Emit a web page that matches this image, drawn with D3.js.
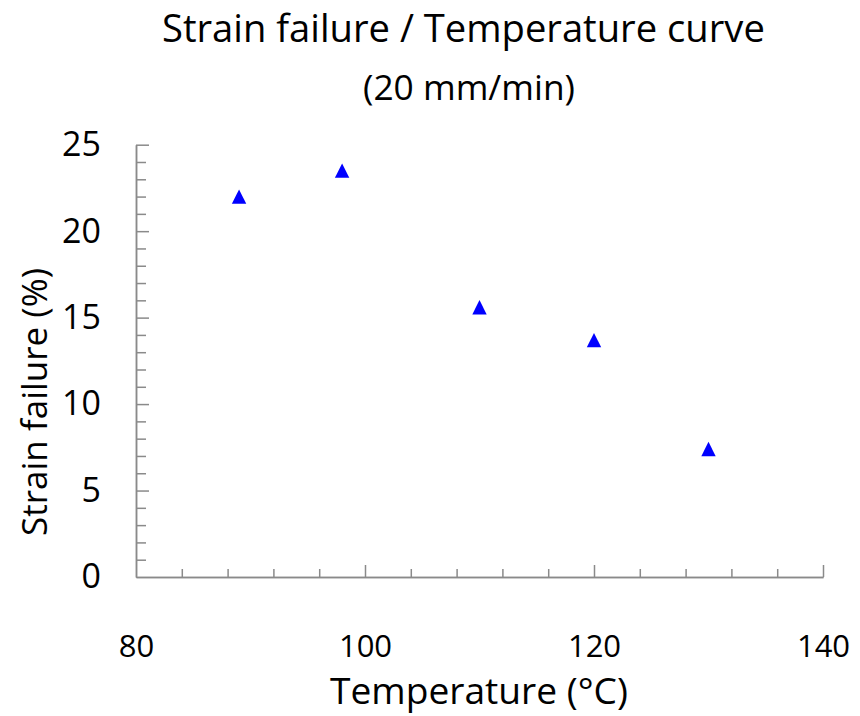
<!DOCTYPE html>
<html>
<head>
<meta charset="utf-8">
<script src="https://cdn.jsdelivr.net/npm/d3@7"></script>
<style>
  html, body { margin: 0; padding: 0; background: #fff; }
  svg { display: block; }
  text { font-family: "Comic Sans MS", "Open Sans", sans-serif; fill: #000; }
</style>
</head>
<body>
<svg id="chart" width="860" height="716"></svg>
<script>
// Measured strain at failure for each test temperature (20 mm/min)
const temperatures = [89, 98, 110, 120, 130];
const strainFailure = [22.0, 23.5, 15.6, 13.7, 7.4];

const xMajorTicks = [80, 100, 120, 140];
const yMajorTicks = [0, 5, 10, 15, 20, 25];
const xMinorStep = 4;
const yMinorStep = 1;

const titleLines = ["Strain failure / Temperature curve", "(20 mm/min)"];
const xAxisTitle = "Temperature (\u00B0C)";
const yAxisTitle = "Strain failure (%)";

const W = 860, H = 716;
const plot = { left: 136, right: 823, top: 144.7, bottom: 577 };
const axisColor = "#8a8a8a";

const svg = d3.select("#chart");

const x = d3.scaleLinear().domain([80, 140]).range([plot.left, plot.right]);
const y = d3.scaleLinear().domain([0, 25]).range([plot.bottom, plot.top]);

const xMinor = d3.range(80, 140 + 1e-9, xMinorStep).filter(v => !xMajorTicks.includes(v));
const yMinor = d3.range(0, 25 + 1e-9, yMinorStep).filter(v => !yMajorTicks.includes(v));

// scale a text's font size so it spans the given width
function fitWidth(sel, target) {
  const node = sel.node();
  const fs = parseFloat(sel.attr("font-size"));
  const w = node.getComputedTextLength();
  sel.attr("font-size", (fs * target / w).toFixed(2));
}

function styleAxis(g) {
  g.selectAll(".domain").attr("stroke", axisColor).attr("stroke-width", 1.5);
  g.selectAll(".tick line").attr("stroke", axisColor).attr("stroke-width", 1.5);
}

// x axis: minor ticks, then major ticks with labels
svg.append("g")
  .attr("transform", `translate(0,${plot.bottom})`)
  .call(d3.axisBottom(x).tickValues(xMinor).tickSize(-8).tickSizeOuter(0).tickFormat(""))
  .call(styleAxis);

const gx = svg.append("g")
  .attr("transform", `translate(0,${plot.bottom})`)
  .call(d3.axisBottom(x).tickValues(xMajorTicks).tickSize(-12).tickSizeOuter(0)
    .tickPadding(58).tickFormat(d3.format("d")))
  .call(styleAxis);
gx.selectAll(".tick text")
  .attr("font-size", 31)
  .attr("font-family", "\"Comic Sans MS\", \"Open Sans\", sans-serif")
  .attr("fill", "#000");
gx.select(".tick line").filter(d => d === 80).remove();

// y axis: minor ticks, then major ticks with labels
svg.append("g")
  .attr("transform", `translate(${plot.left},0)`)
  .call(d3.axisLeft(y).tickValues(yMinor).tickSize(-10).tickSizeOuter(0).tickFormat(""))
  .call(styleAxis);

const gy = svg.append("g")
  .attr("transform", `translate(${plot.left},0)`)
  .call(d3.axisLeft(y).tickValues(yMajorTicks).tickSize(-13).tickSizeOuter(0)
    .tickPadding(35).tickFormat(d3.format("d")))
  .call(styleAxis);
gy.selectAll(".tick text")
  .attr("font-size", 34)
  .attr("font-family", "\"Comic Sans MS\", \"Open Sans\", sans-serif")
  .attr("fill", "#000");
gy.selectAll(".tick").filter(d => d === 0).select("line").remove();

// data markers: filled blue triangles
const pts = temperatures.map((t, i) => ({ t, s: strainFailure[i] }));
svg.append("g")
  .selectAll("path")
  .data(pts)
  .join("path")
  .attr("transform", d => `translate(${x(d.t)},${y(d.s)})`)
  .attr("d", "M0,-7.2L7.2,7.2L-7.2,7.2Z")
  .attr("fill", "#0000ff");

// titles
const t1 = svg.append("text")
  .attr("x", 463.4).attr("y", 42)
  .attr("text-anchor", "middle")
  .attr("font-size", 32)
  .text(titleLines[0]);
fitWidth(t1, 603);

const t2 = svg.append("text")
  .attr("x", 469).attr("y", 100)
  .attr("text-anchor", "middle")
  .attr("font-size", 32)
  .text(titleLines[1]);
fitWidth(t2, 212);

const xt = svg.append("text")
  .attr("x", 479).attr("y", 704)
  .attr("text-anchor", "middle")
  .attr("font-size", 30)
  .text(xAxisTitle);
fitWidth(xt, 298);

const yt = svg.append("text")
  .attr("transform", "translate(47,402) rotate(-90)")
  .attr("text-anchor", "middle")
  .attr("font-size", 30)
  .text(yAxisTitle);
fitWidth(yt, 268);
</script>
</body>
</html>
